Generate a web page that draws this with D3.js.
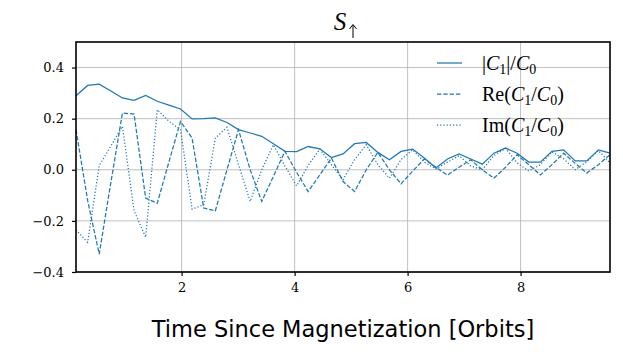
<!DOCTYPE html>
<html><head><meta charset="utf-8">
<script src="https://cdn.jsdelivr.net/npm/d3@7"></script>
<style>body{margin:0;background:#fff}</style>
</head><body>
<svg id="c" width="623" height="352"></svg>
<script>
// Time (orbits)
const times = [0.130,0.336,0.541,0.747,0.952,1.158,1.363,1.569,1.774,1.980,2.185,2.391,2.596,2.802,3.007,3.213,3.418,3.624,3.829,4.035,4.240,4.446,4.651,4.857,5.062,5.268,5.473,5.679,5.884,6.090,6.295,6.501,6.706,6.912,7.117,7.323,7.528,7.734,7.939,8.145,8.350,8.556,8.761,8.967,9.172,9.378,9.583];
// |C1|/C0
const absVals = [0.29,0.33,0.335,0.308,0.281,0.272,0.291,0.268,0.253,0.238,0.199,0.2,0.203,0.185,0.157,0.144,0.131,0.102,0.072,0.071,0.091,0.082,0.048,0.062,0.102,0.107,0.068,0.039,0.072,0.081,0.046,0.007,0.042,0.062,0.042,0.022,0.065,0.085,0.065,0.030,0.030,0.072,0.078,0.035,0.035,0.078,0.065];
// Re(C1/C0)
const reVals = [0.157,-0.12,-0.33,-0.05,0.222,0.218,-0.111,-0.131,0.03,0.189,0.124,-0.15,-0.161,0.0,0.157,0.0,-0.124,-0.026,0.072,-0.01,-0.085,-0.02,0.046,-0.046,-0.085,0.0,0.068,0.0,-0.055,-0.005,0.042,0.01,-0.021,0.01,0.039,0.0,-0.033,0.01,0.059,0.02,-0.02,0.02,0.065,0.025,-0.013,0.02,0.059];
// Im(C1/C0)
const imVals = [-0.235,-0.284,0.016,0.093,0.170,-0.16,-0.264,0.235,0.19,0.157,-0.154,-0.137,0.124,0.166,0.02,-0.124,0.0,0.098,0.015,-0.063,0.017,0.081,0.02,-0.039,0.04,0.098,0.02,-0.033,0.04,0.078,0.03,0.003,0.03,0.055,0.015,0.0,0.056,0.084,0.027,-0.005,0.02,0.07,0.043,0.0,0.032,0.075,0.027];
const xTicks = [2,4,6,8];
const yTicks = [-0.4,-0.2,0.0,0.2,0.4];
const xLabel = "Time Since Magnetization [Orbits]";

const color = "#1f77b4";
const svg = d3.select("#c");
const L = 76, R = 610, T = 42, B = 272;
const x = d3.scaleLinear().domain([times[0], times[times.length-1]]).range([L, R]);
const y = d3.scaleLinear().domain([-0.4, 0.5]).range([B, T]);
const serif = "'DejaVu Serif', serif";
const serif2 = "'Liberation Serif', serif";

// grid
const grid = svg.append("g");
grid.selectAll("line.gx").data(xTicks).join("line")
  .attr("x1", d => x(d)).attr("x2", d => x(d)).attr("y1", T).attr("y2", B)
  .attr("stroke", "#b0b0b0").attr("stroke-width", 0.8);
grid.selectAll("line.gy").data(yTicks).join("line")
  .attr("y1", d => y(d)).attr("y2", d => y(d)).attr("x1", L).attr("x2", R)
  .attr("stroke", "#b0b0b0").attr("stroke-width", 0.8);

// series
const series = [
  {vals: absVals, dash: null},
  {vals: reVals, dash: "4.4,1.9"},
  {vals: imVals, dash: "1.2,2.0"}
];
const line = d3.line().x((d,i) => x(times[i])).y(d => y(d));
series.forEach(s => {
  svg.append("path").datum(s.vals).attr("d", line)
    .attr("fill", "none").attr("stroke", color).attr("stroke-width", 1.25)
    .attr("stroke-dasharray", s.dash);
});

// axes
const xAxis = d3.axisBottom(x).tickValues(xTicks).tickSize(4).tickPadding(7).tickFormat(d3.format("d"));
const gx = svg.append("g").attr("transform", `translate(0,${B})`).call(xAxis);
const yAxis = d3.axisLeft(y).tickValues(yTicks).tickSize(4).tickPadding(8).tickFormat(d => d3.format(".1f")(d).replace("-", "\u2212"));
const gy = svg.append("g").attr("transform", `translate(${L},0)`).call(yAxis);
[gx, gy].forEach(g => {
  g.attr("font-family", null).attr("font-size", null);
  g.select(".domain").remove();
  g.selectAll(".tick line").attr("stroke", "#000").attr("stroke-width", 1.2);
  g.selectAll(".tick text").style("font-family", serif).style("font-size", "13px").attr("fill", "#000");
});

// frame
svg.append("rect").attr("x", L).attr("y", T).attr("width", R-L).attr("height", B-T)
  .attr("fill", "none").attr("stroke", "#000").attr("stroke-width", 1.6);

// x label
svg.append("text").attr("x", (L+R)/2).attr("y", 337).attr("text-anchor", "middle")
  .style("font-family", "'DejaVu Sans', sans-serif").style("font-size", "22.5px").attr("fill", "#000")
  .text(xLabel);

// title: italic S with an up-arrow subscript
svg.append("text").attr("x", 340).attr("y", 30).attr("text-anchor", "middle")
  .style("font-family", serif2).style("font-style", "italic").style("font-size", "25px").attr("fill", "#000")
  .text("S");
svg.append("path").attr("d", "M353,38 L353,25 M349.5,29 L353,24.5 L356.5,29")
  .attr("fill", "none").attr("stroke", "#000").attr("stroke-width", 1);

// legend
const legRows = [
  {dash: null, parts: [["|",""],["C","i"],["1","s"],["|/",""],["C","i"],["0","s"]]},
  {dash: "4.4,1.9", parts: [["Re(",""],["C","i"],["1","s"],["/",""],["C","i"],["0","s"],[")",""]]},
  {dash: "1.2,2.0", parts: [["Im(",""],["C","i"],["1","s"],["/",""],["C","i"],["0","s"],[")",""]]}
];
const legY = [63, 94, 125];
legRows.forEach((r, k) => {
  svg.append("line").attr("x1", 437).attr("x2", 462).attr("y1", legY[k]).attr("y2", legY[k])
    .attr("stroke", color).attr("stroke-width", 1.25).attr("stroke-dasharray", r.dash);
  const t = svg.append("text").attr("x", 482).attr("y", legY[k] + 7)
    .style("font-family", serif2).style("font-size", "20px").attr("fill", "#000");
  let sub = false;
  r.parts.forEach(([s, st]) => {
    const ts = t.append("tspan").text(s);
    if (st === "i") ts.style("font-style", "italic");
    if (st === "s") { ts.style("font-size", "14px").attr("dy", 4); sub = true; }
    else if (sub) { ts.attr("dy", -4); sub = false; }
  });
});
</script>
</body></html>
